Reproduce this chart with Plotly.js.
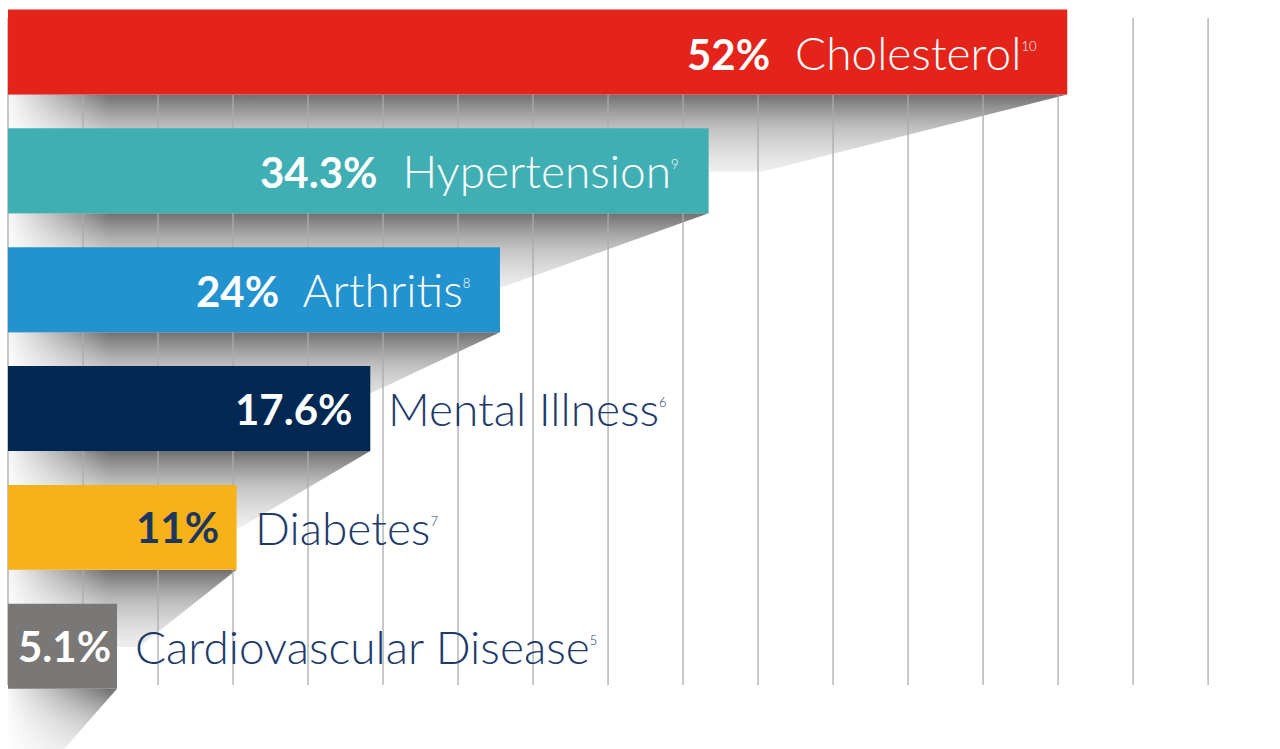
<!DOCTYPE html>
<html><head><meta charset="utf-8">
<script src="https://cdn.plot.ly/plotly-3.0.1.min.js"></script>
<style>html,body{margin:0;padding:0;background:#fff;} #chart{width:1280px;height:749px;}</style>
</head><body><div id="chart"></div>
<script>
// ---- data ----
const categories = ['Cholesterol', 'Hypertension', 'Arthritis', 'Mental Illness', 'Diabetes', 'Cardiovascular Disease'];
const values = [52, 34.3, 24, 17.6, 11, 5.1];
const refs = ['10', '9', '8', '6', '7', '5'];

// ---- styles ----
const barColors = ['#E4241B', '#40AFB4', '#2293CE', '#002852', '#F8B219', '#7A7877'];
const pctColors = ['#ffffff', '#ffffff', '#ffffff', '#ffffff', '#1B365F', '#ffffff'];
const labelNavy = '#1D3A6B';
const FONT = 'Lato, "Open Sans", sans-serif';
const LABEL_SIZE = 46, PCT_SIZE = 42, SUP_SIZE = 13;
const X_RANGE = [-0.676, 62.5];
const Y_RANGE = [5.865, -0.4376];
const BASE = -0.28;
const BAR_W = 0.715;
const hw = BAR_W / 2;
const SHADOW_H = 0.65;
const GRID_START = -0.281, GRID_STEP = 3.702, GRID_N = 17;
const GRID_TOP = -0.286, GRID_BOT = 5.327;

const traces = [];

// decorative cast shadows under each bar
categories.forEach((c, i) => {
  const v = values[i];
  const len = v - BASE;
  const dx = 0.25 * len + 2;
  const y0 = i + hw, y1 = i + hw + SHADOW_H;
  traces.push({
    type: 'scatter', xaxis: 'x', yaxis: 'y',
    x: [BASE, v, v - dx, BASE, BASE], y: [y0, y0, y1, y1, y0],
    fill: 'toself', mode: 'none', hoverinfo: 'skip', showlegend: false,
    fillgradient: {type: 'vertical', start: y0, stop: y1,
      colorscale: [[0, 'rgba(80,80,80,0.82)'], [0.45, 'rgba(150,150,150,0.58)'], [1, 'rgba(210,210,210,0.35)']]}
  });
  traces.push({
    type: 'scatter', xaxis: 'x', yaxis: 'y',
    x: [X_RANGE[0], BASE + 5, BASE + 5, X_RANGE[0], X_RANGE[0]], y: [y0, y0, y1, y1, y0],
    fill: 'toself', mode: 'none', hoverinfo: 'skip', showlegend: false,
    fillgradient: {type: 'horizontal', start: BASE, stop: BASE + 5,
      colorscale: [[0, 'rgba(255,255,255,0.95)'], [1, 'rgba(255,255,255,0)']]}
  });
});

// vertical grid lines
const gx = [], gy = [];
for (let k = 0; k < GRID_N; k++) {
  const g = GRID_START + k * GRID_STEP;
  gx.push(g, g, null); gy.push(GRID_TOP, GRID_BOT, null);
}
traces.push({type: 'scatter', mode: 'lines', x: gx, y: gy, xaxis: 'x', yaxis: 'y',
  line: {color: '#ababab', width: 1.3}, hoverinfo: 'skip', showlegend: false});

// bars (overlay subplot, drawn above shadows and grid)
traces.push({
  type: 'bar', orientation: 'h', xaxis: 'x2', yaxis: 'y2',
  y: categories, x: values.map(v => v - BASE), base: BASE, width: BAR_W,
  marker: {color: barColors, line: {width: 0}}, hoverinfo: 'skip', showlegend: false
});

// labels
const annotations = [];
categories.forEach((c, i) => {
  const v = values[i];
  const sup = `<sup><span style="font-size:${SUP_SIZE}px">${refs[i]}</span></sup>`;
  const pct = `<span style="font-size:${PCT_SIZE}px"><b>${v}%</b></span>`;
  if (v >= 20) {
    annotations.push({xref: 'x2', yref: 'y2', x: v, y: c, xanchor: 'right', yanchor: 'middle', xshift: -28,
      showarrow: false, text: `${pct}&nbsp;&nbsp;${c}${sup}`,
      font: {family: FONT, size: LABEL_SIZE, color: '#ffffff', weight: 300}});
  } else {
    const short = v < 8;
    annotations.push({xref: 'x2', yref: 'y2', x: short ? (v + BASE) / 2 : v, y: c,
      xanchor: short ? 'center' : 'right', yanchor: 'middle', xshift: short ? 2 : -16,
      showarrow: false, text: pct,
      font: {family: FONT, size: LABEL_SIZE, color: pctColors[i], weight: 300}});
    annotations.push({xref: 'x2', yref: 'y2', x: v, y: c, xanchor: 'left', yanchor: 'middle', xshift: 16,
      showarrow: false, text: `${c}${sup}`,
      font: {family: FONT, size: LABEL_SIZE, color: labelNavy, weight: 300}});
  }
});

const layout = {
  width: 1280, height: 749,
  margin: {l: 0, r: 0, t: 0, b: 0, pad: 0},
  paper_bgcolor: '#ffffff', plot_bgcolor: '#ffffff',
  showlegend: false, hovermode: false,
  xaxis: {range: X_RANGE, visible: false, fixedrange: true},
  yaxis: {range: Y_RANGE, visible: false, fixedrange: true},
  xaxis2: {range: X_RANGE, overlaying: 'x', anchor: 'y2', visible: false, fixedrange: true},
  yaxis2: {type: 'category', categoryorder: 'array', categoryarray: categories, range: Y_RANGE,
           overlaying: 'y', anchor: 'x2', visible: false, fixedrange: true},
  annotations: annotations
};

Plotly.newPlot('chart', traces, layout, {staticPlot: true, displayModeBar: false});
</script>
</body></html>
